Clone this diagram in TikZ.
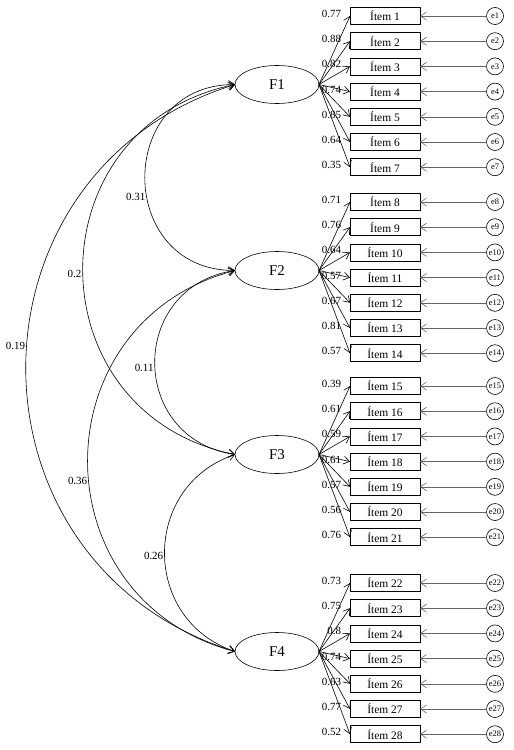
\documentclass[tikz,border=0pt]{standalone}
\usepackage{fontspec}
\setmainfont{Liberation Serif}
\usepackage{tikz}
\usetikzlibrary{arrows.meta,positioning,calc,shapes.geometric}

\begin{document}
\begin{tikzpicture}[x=1bp,y=-1bp, line cap=round, line join=round,
                    every node/.style={outer sep=0pt},
                    >={Straight Barb[length=6bp,width=8bp]}]

  \tikzset{
    latent/.style={ellipse, draw=black, line width=0.6pt, minimum width=84bp, minimum height=38bp, inner sep=0pt, font=\fontsize{15}{15}\selectfont},
    item/.style={rectangle, draw=black, line width=0.6pt, minimum width=70bp, minimum height=17bp, inner sep=0pt, font=\fontsize{11.5}{12}\selectfont},
    err/.style={circle, draw=black, line width=0.6pt, minimum size=17bp, inner sep=0.5pt, font=\fontsize{8.5}{9}\selectfont},
    load/.style={->, line width=0.6pt, draw=black},
    errarr/.style={->, line width=0.6pt, draw=black!60},
    cov/.style={<->, line width=0.6pt, draw=black},
    lbl/.style={inner sep=0pt, font=\fontsize{11}{12}\selectfont},
    covlbl/.style={left, inner sep=1.5bp, font=\fontsize{11}{12}\selectfont}
  }

  \path[use as bounding box] (0,0) rectangle (514,750);

  % Factors, items, errors and loadings
  \foreach \f/\top/\loads in {1/16/{0.77,0.88,0.82,0.74,0.85,0.64,0.35},
                              2/202/{0.71,0.76,0.64,0.57,0.67,0.81,0.57},
                              3/386/{0.39,0.61,0.59,0.61,0.57,0.56,0.76},
                              4/583/{0.73,0.75,0.8,0.74,0.63,0.77,0.52}} {
    \node[latent] (F\f) at (277,\top+68.5) {F\f};
    \foreach \l [count=\k from 0] in \loads {
      \pgfmathtruncatemacro\n{7*(\f-1)+\k+1}
      \node[item] (it\n) at (385,\top+25.2*\k) {Ítem \n};
      \node[err] (e\n) at (495,\top+25.2*\k) {e\n};
      \draw[load] (F\f.east) -- (it\n.west);
      \draw[errarr] (e\n) -- (it\n);
      \node[lbl, left=9bp of it\n.west, yshift=2bp] {\l};
    }
  }

  % Covariances
  \foreach \a/\b/\len/\ang/\v/\p in {1/2/120/0/0.31/0.57,
                                     1/3/207/11.5/0.2/0.51,
                                     1/4/292/17.3/0.19/0.47,
                                     2/3/108/8.5/0.11/0.52,
                                     2/4/203/14.7/0.36/0.54,
                                     3/4/99/18.7/0.26/0.51}
    \draw[cov] (F\a.west) .. controls +({-\len*cos(\ang)},{\len*sin(\ang)})
                           and +({-\len*cos(\ang)},{-\len*sin(\ang)}) ..
               node[covlbl, pos=\p] {\v} (F\b.west);
\end{tikzpicture}
\end{document}
